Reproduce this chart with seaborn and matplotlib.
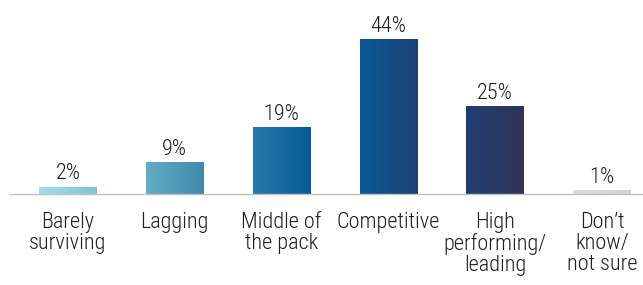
import numpy as np
import pandas as pd
import matplotlib
matplotlib.use('Agg')
import matplotlib.pyplot as plt
import seaborn as sns
from matplotlib.colors import LinearSegmentedColormap

# DATA
categories = ['Barely\nsurviving', 'Lagging', 'Middle of\nthe pack', 'Competitive',
              'High\nperforming/\nleading', 'Don\u2019t\nknow/\nnot sure']
values = [2, 9, 19, 44, 25, 1]
# left / right colour of each bar's gradient
grad_left = ['#a9dde8', '#64adc6', '#2b78aa', '#0a5a97', '#223f72', '#dcdcdc']
grad_right = ['#7ec3d4', '#3f8aab', '#055c98', '#1b4275', '#2f3457', '#d2d2d2']

df = pd.DataFrame({'Category': categories, 'Value': values})

sns.set_style('white')
plt.rcParams['font.family'] = ['Roboto Condensed', 'Fira Sans Extra Condensed', 'DejaVu Sans']

fig = plt.figure(figsize=(6.43, 2.85), dpi=100)
ax = fig.add_axes([10 / 643, 91 / 285, 633 / 643, 176 / 285])

sns.barplot(data=df, x='Category', y='Value', ax=ax, width=0.54,
            color='white', edgecolor='none', linewidth=0)

# horizontal gradient fills clipped to each bar
for patch, c1, c2, v in zip(ax.patches, grad_left, grad_right, values):
    x0, y0 = patch.get_x(), patch.get_y()
    w, h = patch.get_width(), patch.get_height()
    cmap = LinearSegmentedColormap.from_list('g', [c1, c2])
    grad = np.linspace(0, 1, 256).reshape(1, -1)
    im = ax.imshow(grad, cmap=cmap, extent=[x0, x0 + w, y0, y0 + h],
                   aspect='auto', zorder=2, interpolation='bicubic')
    im.set_clip_path(patch)
    ax.text(x0 + w / 2, y0 + h + 0.7, f'{v}%', ha='center', va='bottom',
            fontsize=16, color='#1e1e1e', fontweight='light')

ax.set_xlim(-0.543, 5.384)
ax.set_ylim(0, 50)
ax.set_xlabel('')
ax.set_ylabel('')
ax.set_yticks([])
ax.tick_params(axis='x', length=0, pad=13, labelsize=16, labelcolor='#1e1e1e')
for lbl in ax.get_xticklabels():
    lbl.set_linespacing(1.0)
    lbl.set_fontweight('light')
for s in ['top', 'right', 'left']:
    ax.spines[s].set_visible(False)
ax.spines['bottom'].set_color('#c0c0c0')
ax.spines['bottom'].set_linewidth(1)

fig.savefig('out.png', dpi=100)
